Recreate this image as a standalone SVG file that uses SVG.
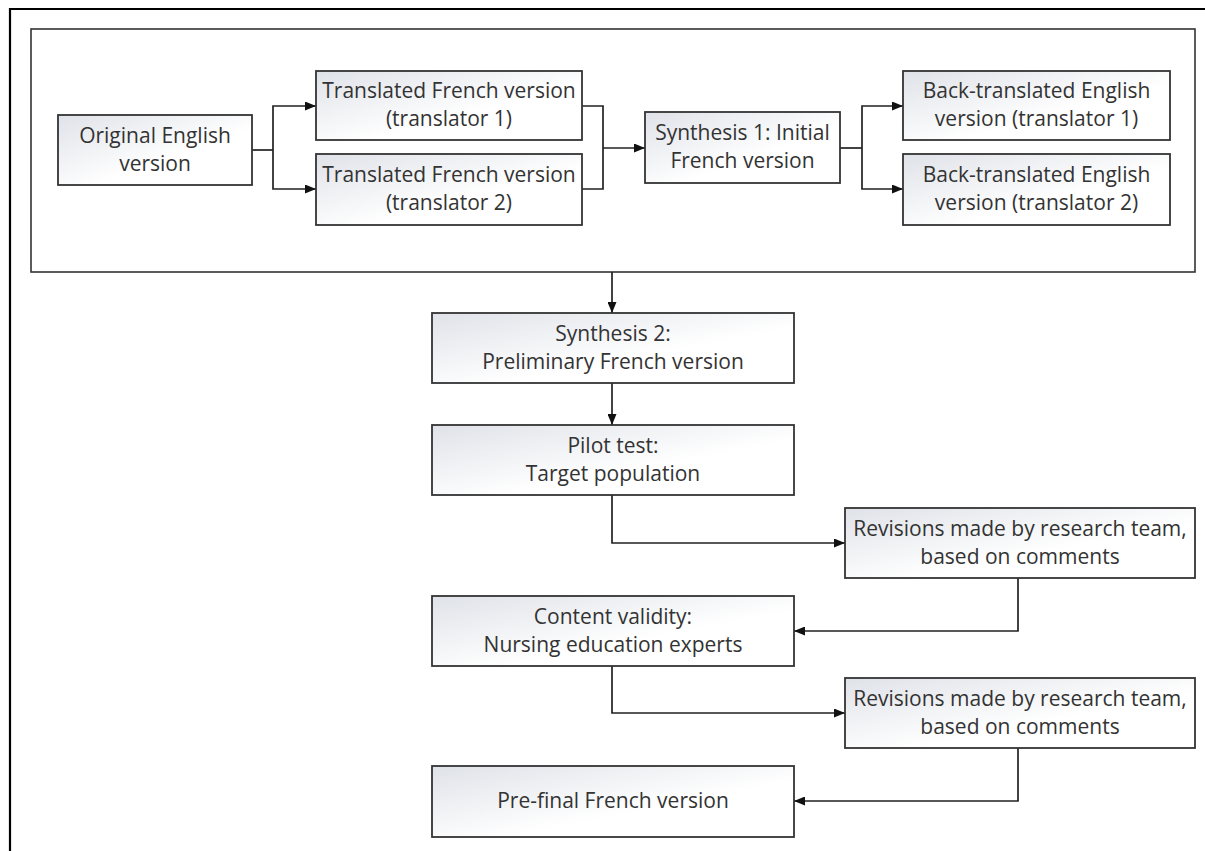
<svg xmlns="http://www.w3.org/2000/svg" width="1205" height="851" viewBox="0 0 1205 851">
<defs>
<linearGradient id="g" x1="0" y1="0" x2="1" y2="1">
<stop offset="0" stop-color="#dfe2e8"/>
<stop offset="0.6" stop-color="#ffffff"/>
<stop offset="1" stop-color="#ffffff"/>
</linearGradient>
<marker id="ah" viewBox="0 0 11 9" markerWidth="11" markerHeight="9" refX="11" refY="4.5" orient="auto" markerUnits="userSpaceOnUse">
<path d="M0,0 L11,4.5 L0,9 z" fill="#111"/>
</marker>
</defs>
<style>
.box{fill:url(#g);stroke:#333;stroke-width:1.8}
.t{font-family:"Open Sans","Noto Sans","Liberation Sans",sans-serif;font-size:21px;fill:#333;text-anchor:middle}
.c{fill:none;stroke:#222;stroke-width:1.7;marker-end:url(#ah)}
.cn{fill:none;stroke:#222;stroke-width:1.7}
</style>
<rect width="1205" height="851" fill="#ffffff"/>
<path d="M10,851 V9 H1205" fill="none" stroke="#000" stroke-width="2.2"/>
<rect id="frame" x="31" y="29" width="1164" height="243" fill="none" stroke="#333" stroke-width="1.6"/>
<g id="connectors">
<path class="cn" d="M252,150 H273"/>
<path class="c" d="M273,150 V106 H316"/>
<path class="c" d="M273,150 V189 H316"/>
<path class="cn" d="M582,106 H603 V189 H582"/>
<path class="c" d="M603,148 H645"/>
<path class="cn" d="M840,148 H862"/>
<path class="c" d="M862,148 V106 H903"/>
<path class="c" d="M862,148 V189 H903"/>
<path class="c" d="M612,272 V313"/>
<path class="c" d="M612,383 V425"/>
<path class="c" d="M612,495 V543 H845"/>
<path class="c" d="M1018,578 V631 H794"/>
<path class="c" d="M612,666 V713 H845"/>
<path class="c" d="M1018,748 V801 H794"/>
</g>
<g id="original">
<rect class="box" x="58" y="115" width="194" height="70"/>
<text class="t" x="155" y="143">Original English</text>
<text class="t" x="155" y="171">version</text>
</g>
<g id="translated1">
<rect class="box" x="316" y="71" width="266" height="69"/>
<text class="t" x="449" y="98">Translated French version</text>
<text class="t" x="449" y="126">(translator 1)</text>
</g>
<g id="translated2">
<rect class="box" x="316" y="154" width="266" height="71"/>
<text class="t" x="449" y="182">Translated French version</text>
<text class="t" x="449" y="210">(translator 2)</text>
</g>
<g id="synthesis1">
<rect class="box" x="645" y="112" width="195" height="71"/>
<text class="t" x="742.5" y="140">Synthesis 1: Initial</text>
<text class="t" x="742.5" y="168">French version</text>
</g>
<g id="back1">
<rect class="box" x="903" y="71" width="267" height="69"/>
<text class="t" x="1036.5" y="98">Back-translated English</text>
<text class="t" x="1036.5" y="126">version (translator 1)</text>
</g>
<g id="back2">
<rect class="box" x="903" y="154" width="267" height="71"/>
<text class="t" x="1036.5" y="182">Back-translated English</text>
<text class="t" x="1036.5" y="210">version (translator 2)</text>
</g>
<g id="synthesis2">
<rect class="box" x="432" y="313" width="362" height="70"/>
<text class="t" x="613" y="341">Synthesis 2:</text>
<text class="t" x="613" y="369">Preliminary French version</text>
</g>
<g id="pilot">
<rect class="box" x="432" y="425" width="362" height="70"/>
<text class="t" x="613" y="453">Pilot test:</text>
<text class="t" x="613" y="481">Target population</text>
</g>
<g id="revisions1">
<rect class="box" x="845" y="508" width="350" height="70"/>
<text class="t" x="1020" y="536">Revisions made by research team,</text>
<text class="t" x="1020" y="564">based on comments</text>
</g>
<g id="content">
<rect class="box" x="432" y="596" width="362" height="70"/>
<text class="t" x="613" y="624">Content validity:</text>
<text class="t" x="613" y="652">Nursing education experts</text>
</g>
<g id="revisions2">
<rect class="box" x="845" y="678" width="350" height="70"/>
<text class="t" x="1020" y="706">Revisions made by research team,</text>
<text class="t" x="1020" y="734">based on comments</text>
</g>
<g id="prefinal">
<rect class="box" x="432" y="766" width="362" height="71"/>
<text class="t" x="613" y="808">Pre-final French version</text>
</g>
</svg>
